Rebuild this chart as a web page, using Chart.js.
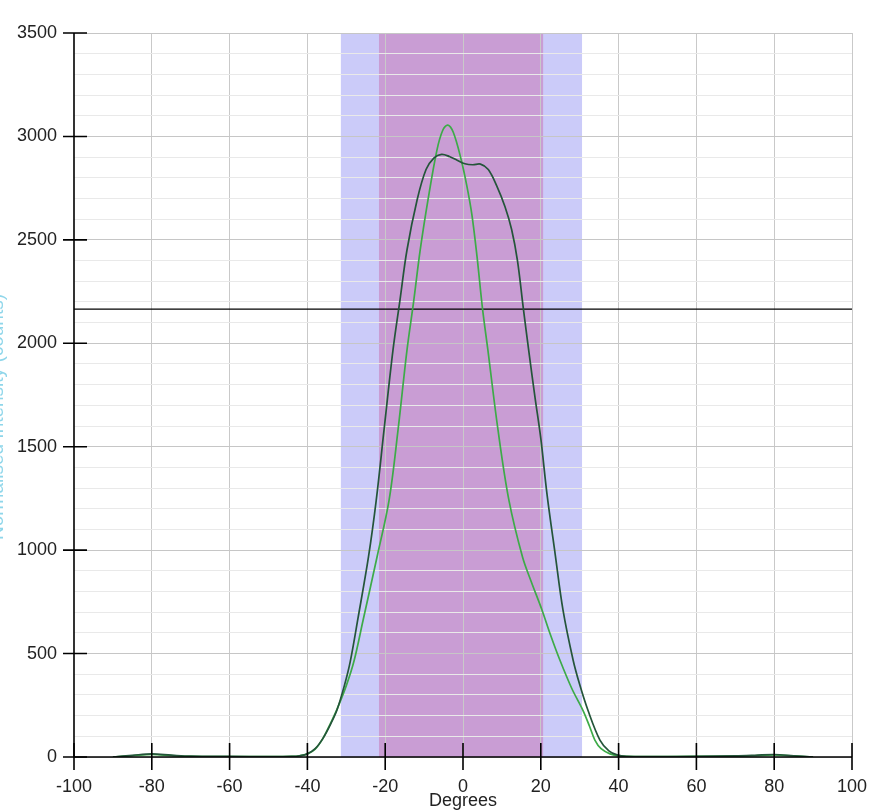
<!DOCTYPE html>
<html>
<head>
<meta charset="utf-8">
<script src="https://cdn.jsdelivr.net/npm/chart.js@4.4.0/dist/chart.umd.min.js"></script>
<style>
html,body{margin:0;padding:0;background:#fff;overflow:hidden}
canvas{display:block}
</style>
</head>
<body>
<canvas id="c" width="879" height="810"></canvas>
<script>
// ---- data ----
const xTitle = 'Degrees';
const yTitle = 'Normalised Intensity (counts)';
const xRange = [-100, 100];
const yRange = [0, 3500];
const xTickStep = 20;
const yMinorStep = 100;
const yMajorStep = 500;

const wideDegrees = [-90,-85,-80,-75,-70,-60,-50,-44,-42,-40,-38,-36,-34,-32.4,-30.5,-29,-27,-24.3,-22.3,-20.3,-18,-16.2,-14.4,-11.8,-9.5,-7.5,-5.5,-3.5,-1.5,0.5,2.5,4.5,6.5,8.7,10.8,12.5,14,15.5,17,18.5,20,21.6,23.7,25.7,28.3,30,32.1,35.2,37.5,39.6,42,50,60,70,75,80,85,90];
const wideCounts  = [0,8,15,9,4,3,2,3,6,15,40,90,160,227,345,460,670,967,1242,1581,1967,2209,2451,2693,2840,2895,2913,2903,2885,2868,2863,2866,2840,2760,2660,2550,2400,2170,1950,1740,1540,1270,980,711,469,350,227,82,30,10,3,2,3,5,8,12,6,0];

const narrowDegrees = [-90,-85,-80,-75,-70,-60,-50,-44,-42,-40,-38,-36,-34,-32.4,-30,-28,-25.7,-22.1,-19,-16.7,-14.4,-12.7,-11,-9,-6.7,-5.2,-3.9,-2.5,-0.5,1,2.3,3.6,5,6.4,9,11.8,15.3,17.5,20.3,22.5,24.9,28,30.8,32.5,33.9,35.5,37.8,40,45,60,70,75,80,85,90];
const narrowCounts  = [0,6,12,7,3,2,2,3,6,15,38,90,165,230,345,465,660,967,1242,1581,1967,2200,2451,2693,2934,3030,3055,3020,2890,2760,2620,2420,2170,1967,1581,1242,967,850,711,590,469,330,227,150,82,40,15,5,2,3,4,6,10,5,0];

const thresholdLevel = 2165;
const outerBand = [-31.4, 30.6];
const innerBand = [-21.6, 20.6];

// ---- styles ----
const FONT = "'Liberation Sans', Arial, sans-serif";
Chart.defaults.font.family = FONT;

const toPoints = (xs, ys) => xs.map((x, i) => ({x, y: ys[i]}));

const decorPlugin = {
  id: 'decor',
  beforeDraw(chart) {
    const {ctx, chartArea: a, scales: {x}} = chart;
    ctx.save();
    ctx.fillStyle = '#ffffff';
    ctx.fillRect(0, 0, chart.width, chart.height);
    const band = (b, color) => {
      const l = x.getPixelForValue(b[0]);
      const r = x.getPixelForValue(b[1]);
      ctx.fillStyle = color;
      ctx.fillRect(l, a.top, r - l, a.bottom - a.top);
    };
    band(outerBand, '#cbcbf9');
    band(innerBand, '#c99dd4');
    ctx.restore();
  },
  afterDatasetsDraw(chart) {
    const {ctx, scales: {x, y}} = chart;
    ctx.save();
    ctx.strokeStyle = '#000';
    ctx.lineWidth = 1.6;
    const x0 = x.getPixelForValue(xRange[0]);
    const y0 = y.getPixelForValue(yRange[0]);
    ctx.beginPath();
    ctx.moveTo(x0, y.getPixelForValue(yRange[1]));
    ctx.lineTo(x0, y0);
    ctx.lineTo(x.getPixelForValue(xRange[1]), y0);
    ctx.stroke();
    ctx.beginPath();
    for (let v = xRange[0]; v <= xRange[1]; v += xTickStep) {
      const px = x.getPixelForValue(v);
      ctx.moveTo(px, y0 - 14);
      ctx.lineTo(px, y0 + 13);
    }
    for (let v = yRange[0]; v <= yRange[1]; v += yMajorStep) {
      const py = y.getPixelForValue(v);
      ctx.moveTo(x0 - 11, py);
      ctx.lineTo(x0 + 13, py);
    }
    ctx.stroke();
    // y title, mostly outside the canvas as in the reference
    ctx.translate(3, (y.top + y.bottom) / 2 + 22);
    ctx.rotate(-Math.PI / 2);
    ctx.fillStyle = '#8fd6ea';
    ctx.font = '19px ' + FONT;
    ctx.textAlign = 'center';
    ctx.textBaseline = 'alphabetic';
    ctx.fillText(yTitle, 0, 0);
    ctx.restore();
  }
};

new Chart(document.getElementById('c'), {
  type: 'line',
  data: {
    datasets: [
      {
        label: 'wide',
        data: toPoints(wideDegrees, wideCounts),
        borderColor: '#24553a',
        borderWidth: 1.7,
        pointRadius: 0,
        tension: 0.35,
        fill: false
      },
      {
        label: 'narrow',
        data: toPoints(narrowDegrees, narrowCounts),
        borderColor: '#3dab48',
        borderWidth: 1.7,
        pointRadius: 0,
        tension: 0.35,
        fill: false
      },
      {
        label: 'threshold',
        data: toPoints(xRange, [thresholdLevel, thresholdLevel]),
        borderColor: '#000',
        borderWidth: 1.2,
        pointRadius: 0,
        fill: false
      }
    ]
  },
  options: {
    responsive: false,
    animation: false,
    events: [],
    layout: {padding: {top: 33, right: 27, left: 0, bottom: 0}},
    plugins: {legend: {display: false}, tooltip: {enabled: false}},
    scales: {
      x: {
        type: 'linear',
        min: xRange[0],
        max: xRange[1],
        afterFit: s => { s.height = 53; s.paddingLeft = 0; s.paddingRight = 0; },
        border: {display: false},
        grid: {
          drawTicks: false,
          color: c => (c.tick && c.tick.value === xRange[0]) ? 'rgba(0,0,0,0)' : '#c9c9c9',
          lineWidth: 1
        },
        ticks: {
          stepSize: xTickStep,
          autoSkip: false,
          maxRotation: 0,
          padding: 19,
          color: '#222',
          font: {size: 18},
          callback: v => String(v)
        },
        title: {
          display: true,
          text: xTitle,
          color: '#222',
          font: {size: 18, lineHeight: 1},
          padding: {top: 0, bottom: 0}
        }
      },
      y: {
        type: 'linear',
        min: yRange[0],
        max: yRange[1],
        afterFit: s => { s.width = 74; s.paddingTop = 0; s.paddingBottom = 0; },
        border: {display: false},
        grid: {
          drawTicks: false,
          color: c => (c.tick && c.tick.value % yMajorStep === 0) ? '#c6c6c6' : '#e9e9e9',
          lineWidth: 1
        },
        ticks: {
          stepSize: yMinorStep,
          autoSkip: false,
          padding: 17,
          color: '#222',
          font: {size: 18},
          callback: v => (v % yMajorStep === 0 ? String(v) : '')
        }
      }
    }
  },
  plugins: [decorPlugin]
});
</script>
</body>
</html>
